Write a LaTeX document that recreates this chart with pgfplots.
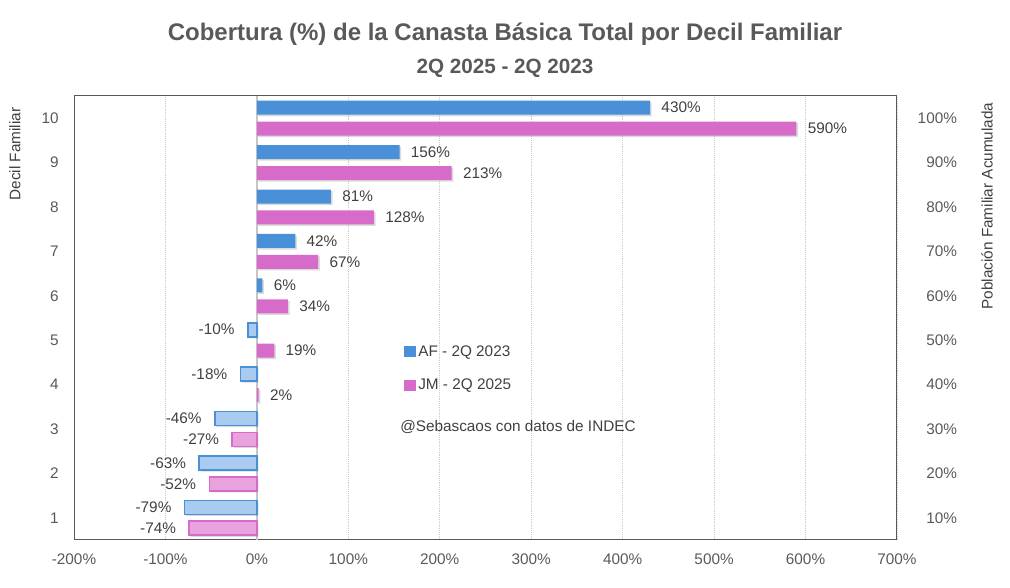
\documentclass[border=0pt]{standalone}
\usepackage{fontspec}
\setmainfont{Liberation Sans}
\usepackage{pgfplots}
\usepackage{pgfplotstable}
\pgfplotsset{compat=1.18}

\definecolor{afblue}{HTML}{4A90D9}
\definecolor{aflight}{HTML}{A9CBEF}
\definecolor{jmpink}{HTML}{D66BC9}
\definecolor{jmlight}{HTML}{E8A2DE}
\definecolor{txt}{HTML}{404040}
\definecolor{axgray}{HTML}{595959}

% cobertura por decil
\pgfplotstableread{
dec val
1 -79
2 -63
3 -46
4 -18
5 -10
6 6
7 42
8 81
9 156
10 430
}\afdata
\pgfplotstableread{
dec val
1 -74
2 -52
3 -27
4 2
5 19
6 34
7 67
8 128
9 213
10 590
}\jmdata

\newcommand{\lblfont}{\fontsize{11.5}{13}\selectfont}

\begin{document}
\begin{tikzpicture}
\begin{axis}[
    name=main,
    scale only axis,
    width=617.25pt, height=333pt,
    xmin=-200, xmax=700, ymin=0.5, ymax=10.5,
    clip=false,
    /pgf/number format/assume math mode=true,
    xbar, bar width=0.315,
    xtick={-200,-100,...,700},
    xticklabels={-200\%,-100\%,0\%,100\%,200\%,300\%,400\%,500\%,600\%,700\%},
    ytick={1,...,10},
    yticklabels={1,2,3,4,5,6,7,8,9,10},
    xmajorgrids,
    major grid style={densely dotted, gray!40, line width=0.6pt},
    major tick length=0pt,
    axis line style={axgray, line width=0.75pt},
    tick label style={font=\lblfont, text=axgray},
    xticklabel style={yshift=-7pt},
    yticklabel style={xshift=-8pt},
    point meta=x,
    nodes near coords={\pgfmathprintnumber[fixed,precision=0,assume math mode=true]{\pgfplotspointmeta}\%},
    every node near coord/.append style={font=\lblfont, text=txt},
    legend style={at={(0.401,0.444)}, anchor=north west, draw=none, fill=none,
        font=\lblfont, text=txt, row sep=11.5pt, inner sep=0pt},
    legend cell align=left,
    legend image code/.code={\fill[#1, draw=none] (0pt,-4pt) rectangle (8.5pt,4.5pt);},
]
\draw[gray!45, line width=1.3pt] (axis cs:0,0.5) -- (axis cs:0,10.5);

% sombras
\addplot[forget plot, fill=black, opacity=0.14, draw=none, bar shift=0.20, xshift=1.2pt, nodes near coords=] table[x=val,y=dec] {\afdata};
\addplot[forget plot, fill=black, opacity=0.14, draw=none, bar shift=-0.27, xshift=1.2pt, nodes near coords=] table[x=val,y=dec] {\jmdata};

% AF - 2Q 2023
\addplot[forget plot, fill=afblue, draw=none, bar shift=0.236,
    restrict x to domain=0:1000,
    every node near coord/.append style={anchor=west, xshift=5pt}] table[x=val,y=dec] {\afdata};
\addplot[forget plot, fill=aflight, draw=afblue, line width=1.2pt, bar shift=0.236,
    restrict x to domain=-1000:0,
    every node near coord/.append style={anchor=east, xshift=-6pt}] table[x=val,y=dec] {\afdata};
% JM - 2Q 2025
\addplot[forget plot, fill=jmpink, draw=none, bar shift=-0.236,
    restrict x to domain=0:1000,
    every node near coord/.append style={anchor=west, xshift=5pt}] table[x=val,y=dec] {\jmdata};
\addplot[forget plot, fill=jmlight, draw=jmpink, line width=1.2pt, bar shift=-0.236,
    restrict x to domain=-1000:0,
    every node near coord/.append style={anchor=east, xshift=-6pt}] table[x=val,y=dec] {\jmdata};

\addlegendimage{fill=afblue}
\addlegendentry{AF - 2Q 2023}
\addlegendimage{fill=jmpink}
\addlegendentry{JM - 2Q 2025}
\end{axis}

\begin{axis}[
    scale only axis,
    width=617.25pt, height=333pt,
    xmin=-200, xmax=700, ymin=0.5, ymax=10.5,
    axis x line=none,
    axis y line*=right,
    y axis line style={draw=none},
    ytick={1,...,10},
    yticklabels={10\%,20\%,30\%,40\%,50\%,60\%,70\%,80\%,90\%,100\%},
    major tick length=0pt,
    tick label style={font=\lblfont, text=axgray},
    yticklabel style={anchor=east, xshift=48.5pt},
]
\end{axis}

\path (main.south west) ++(-44.25pt,289.5pt) node[rotate=90, font=\lblfont, text=txt] {Decil Familiar};
\path (main.south west) ++(684.75pt,250.5pt) node[rotate=90, font=\lblfont, text=txt] {Población Familiar Acumulada};
\path (main.south west) ++(323.25pt,379pt) node[font=\bfseries\fontsize{18}{21}\selectfont, text=axgray] {Cobertura (\%) de la Canasta Básica Total por Decil Familiar};
\path (main.south west) ++(323.25pt,354pt) node[font=\bfseries\fontsize{15.5}{18}\selectfont, text=axgray] {2Q 2025 - 2Q 2023};
\path (main.south west) ++(333pt,84.75pt) node[font=\lblfont, text=txt] {@Sebascaos con datos de INDEC};

\useasboundingbox (main.south west) ++(-55.5pt,-36pt) rectangle ++(757.5pt,441pt);
\end{tikzpicture}
\end{document}
